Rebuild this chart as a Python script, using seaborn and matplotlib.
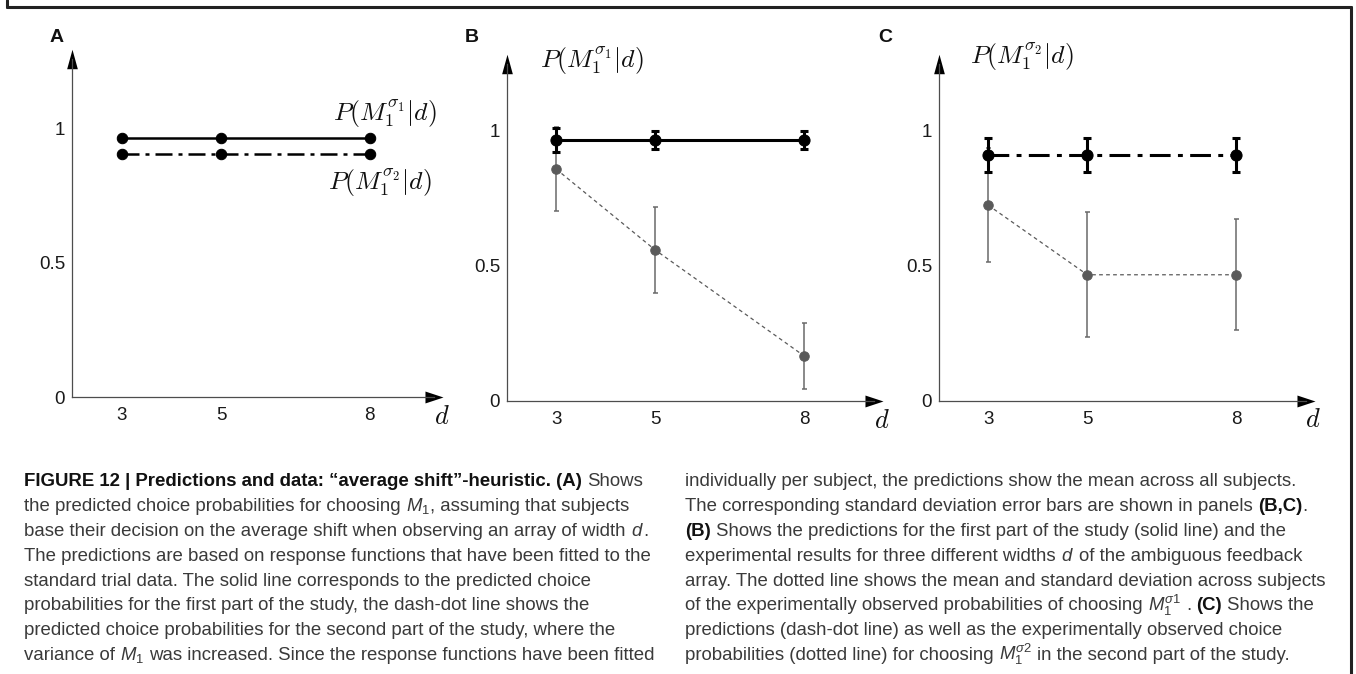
import matplotlib
matplotlib.use('Agg')
import matplotlib.pyplot as plt
import seaborn as sns
import pandas as pd
from matplotlib.lines import Line2D

# ---------------- data ----------------
d_values = [3, 5, 8]
pred_sigma1 = [0.967, 0.967, 0.967]
pred_sigma2 = [0.908, 0.908, 0.908]
pred_sigma1_sd = [0.045, 0.033, 0.033]
pred_sigma2_sd = [0.062, 0.062, 0.062]
obs_sigma1 = [0.859, 0.559, 0.167]
obs_sigma1_sd = [0.155, 0.160, 0.122]
obs_sigma2 = [0.723, 0.466, 0.466]
obs_sigma2_sd = [0.210, 0.230, 0.205]
y_ticks = [0, 0.5, 1]
y_tick_labels = ['0', '0.5', '1']
x_tick_labels = ['3', '5', '8']
panel_letters = ['A', 'B', 'C']
label_s1 = r'$P(M_1^{\sigma_1}|d)$'
label_s2 = r'$P(M_1^{\sigma_2}|d)$'

# ---------------- style ----------------
sns.set_style('white')
plt.rcParams['font.family'] = ['Liberation Sans', 'DejaVu Sans']
plt.rcParams['mathtext.fontset'] = 'custom'
plt.rcParams['mathtext.rm'] = 'Liberation Sans'
plt.rcParams['mathtext.it'] = 'Liberation Sans:italic'
plt.rcParams['mathtext.bf'] = 'Liberation Sans:bold'

W, H = 1356, 674
fig = plt.figure(figsize=(W / 100, H / 100), dpi=100)
fig.patch.set_facecolor('white')


def fx(x):
    return x / W


def fy(y):
    return 1 - y / H


def add_ax(l, r, t, b):
    return fig.add_axes([l / W, 1 - b / H, (r - l) / W, (b - t) / H])


AX_COL = '#4d4d4d'
XARROW = [(-1, -0.66), (1, 0), (-1, 0.66)]
YARROW = [(-0.55, -1), (0, 1), (0.55, -1)]


def style_axis(ax, xlim, ylim):
    ax.set_xlim(xlim)
    ax.set_ylim(ylim)
    ax.set_facecolor('none')
    for s in ['top', 'right']:
        ax.spines[s].set_visible(False)
    for s in ['left', 'bottom']:
        ax.spines[s].set_color(AX_COL)
        ax.spines[s].set_linewidth(0.9)
    ax.set_xticks(d_values)
    ax.set_xticklabels(x_tick_labels)
    ax.set_yticks(y_ticks)
    ax.set_yticklabels(y_tick_labels)
    ax.tick_params(direction='in', length=3, width=0.8, color=AX_COL,
                   labelsize=13.5, labelcolor='#1a1a1a')
    ax.tick_params(axis='y', pad=5)
    ax.tick_params(axis='x', pad=7)
    ax.set_xlabel('')
    ax.set_ylabel('')
    ax.plot(1, 0, marker=XARROW, ms=13, color='k', markeredgewidth=0,
            transform=ax.transAxes, clip_on=False)
    ax.plot(0, 1, marker=YARROW, ms=14, color='k', markeredgewidth=0,
            transform=ax.transAxes, clip_on=False)


DASHDOT = (0, (6.8, 2.4, 1.6, 2.4))
DOTTED = (0, (3, 2.6))
GRAY = '#5a5a5a'
GRAY_E = '#6a6a6a'

# ---------------- panel A ----------------
axA = add_ax(72, 434, 59, 397)
dfA1 = pd.DataFrame({'d': d_values, 'P': pred_sigma1})
dfA2 = pd.DataFrame({'d': d_values, 'P': pred_sigma2})
sns.lineplot(data=dfA1, x='d', y='P', ax=axA, color='k', lw=1.8, marker='o',
             ms=7.5, markeredgecolor='k', errorbar=None)
sns.lineplot(data=dfA2, x='d', y='P', ax=axA, color='k', lw=1.8, marker='o',
             ms=7.5, markeredgecolor='k', errorbar=None, linestyle=DASHDOT)
style_axis(axA, (1.99, 9.30), (0, 1.261))

# ---------------- panel B ----------------
axB = add_ax(507, 874, 64, 401)
dfB_obs = pd.DataFrame({'d': d_values, 'P': obs_sigma1})
dfB_pred = pd.DataFrame({'d': d_values, 'P': pred_sigma1})
axB.errorbar(d_values, obs_sigma1, yerr=obs_sigma1_sd, fmt='none', ecolor=GRAY_E,
             elinewidth=1.1, capsize=1.8, capthick=1.1, zorder=2)
sns.lineplot(data=dfB_obs, x='d', y='P', ax=axB, color=GRAY, lw=0.9, marker='o',
             ms=6.8, markeredgecolor=GRAY, errorbar=None, linestyle=DOTTED, zorder=2.5)
axB.errorbar(d_values, pred_sigma1, yerr=pred_sigma1_sd, fmt='none', ecolor='k',
             elinewidth=2.2, capsize=2.8, capthick=2.2, zorder=3)
sns.lineplot(data=dfB_pred, x='d', y='P', ax=axB, color='k', lw=2.2, marker='o',
             ms=8, markeredgecolor='k', errorbar=None, zorder=4)
style_axis(axB, (2.01, 9.41), (0, 1.248))

# ---------------- panel C ----------------
axC = add_ax(939, 1306, 64, 401)
dfC_obs = pd.DataFrame({'d': d_values, 'P': obs_sigma2})
dfC_pred = pd.DataFrame({'d': d_values, 'P': pred_sigma2})
axC.errorbar(d_values, obs_sigma2, yerr=obs_sigma2_sd, fmt='none', ecolor=GRAY_E,
             elinewidth=1.1, capsize=1.8, capthick=1.1, zorder=2)
sns.lineplot(data=dfC_obs, x='d', y='P', ax=axC, color=GRAY, lw=0.9, marker='o',
             ms=6.8, markeredgecolor=GRAY, errorbar=None, linestyle=DOTTED, zorder=2.5)
axC.errorbar(d_values, pred_sigma2, yerr=pred_sigma2_sd, fmt='none', ecolor='k',
             elinewidth=2.2, capsize=2.8, capthick=2.2, zorder=3)
sns.lineplot(data=dfC_pred, x='d', y='P', ax=axC, color='k', lw=2.2, marker='o',
             ms=8, markeredgecolor='k', errorbar=None, linestyle=DASHDOT, zorder=4)
style_axis(axC, (2.01, 9.41), (0, 1.244))

# ---------------- labels ----------------
MATHKW = dict(math_fontfamily='cm', fontsize=18.5, color='#111111',
              ha='center', va='center')
fig.text(fx(385), fy(114), label_s1, **MATHKW)
fig.text(fx(380), fy(183), label_s2, **MATHKW)
fig.text(fx(592), fy(61), label_s1, **MATHKW)
fig.text(fx(1022), fy(57), label_s2, **MATHKW)

for xc, yc in [(442, 417), (882, 421), (1313, 420)]:
    fig.text(fx(xc), fy(yc), r'$d$', math_fontfamily='cm', fontsize=19,
             color='#111111', ha='center', va='center')

for letter, xc in zip(panel_letters, [57, 472, 885]):
    fig.text(fx(xc), fy(38), letter, fontsize=14, fontweight='bold',
             color='#111111', ha='center', va='center', family='Liberation Sans')

# ---------------- border ----------------
for xs, ys in [([7, 7], [0, 7]), ([7, 1351], [7, 7]), ([1351, 1351], [7, 674])]:
    fig.add_artist(Line2D([fx(v) for v in xs], [fy(v) for v in ys],
                          transform=fig.transFigure, color='#222222', lw=2.2))

# ---------------- caption ----------------
CAP_FAMILY = ['Liberation Sans', 'DejaVu Sans']
CAP_FS = 13.4
renderer = fig.canvas.get_renderer()


def _w(s):
    t = fig.text(0, 0, s, fontsize=CAP_FS, family=CAP_FAMILY)
    w = t.get_window_extent(renderer).width
    t.remove()
    return w


space_w = _w('n n') - _w('nn')


def draw_line(x, y, segs):
    for txt, kind, gap in segs:
        if gap:
            x += space_w
        t = fig.text(fx(x), fy(y), txt, fontsize=CAP_FS, family=CAP_FAMILY,
                     fontweight='bold' if kind == 'b' else 'normal',
                     color='#111111' if kind == 'b' else '#3a3a3a',
                     ha='left', va='baseline')
        x = t.get_window_extent(renderer).x1


left_lines = [
    [("FIGURE 12 | Predictions and data: \u201caverage shift\u201d-heuristic. (A)", 'b', False),
     ("Shows", 'n', True)],
    [("the predicted choice probabilities for choosing", 'n', False), (r"$M_1$", 'n', True),
     (", assuming that subjects", 'n', False)],
    [("base their decision on the average shift when observing an array of width", 'n', False),
     (r"$d$", 'n', True), (".", 'n', False)],
    [("The predictions are based on response functions that have been fitted to the", 'n', False)],
    [("standard trial data. The solid line corresponds to the predicted choice", 'n', False)],
    [("probabilities for the first part of the study, the dash-dot line shows the", 'n', False)],
    [("predicted choice probabilities for the second part of the study, where the", 'n', False)],
    [("variance of", 'n', False), (r"$M_1$", 'n', True),
     ("was increased. Since the response functions have been fitted", 'n', True)],
]
right_lines = [
    [("individually per subject, the predictions show the mean across all subjects.", 'n', False)],
    [("The corresponding standard deviation error bars are shown in panels", 'n', False),
     ("(B,C)", 'b', True), (".", 'n', False)],
    [("(B)", 'b', False),
     ("Shows the predictions for the first part of the study (solid line) and the", 'n', True)],
    [("experimental results for three different widths", 'n', False), (r"$d$", 'n', True),
     ("of the ambiguous feedback", 'n', True)],
    [("array. The dotted line shows the mean and standard deviation across subjects", 'n', False)],
    [("of the experimentally observed probabilities of choosing", 'n', False),
     (r"$M_1^{\sigma 1}$", 'n', True), (".", 'n', True), ("(C)", 'b', True),
     ("Shows the", 'n', True)],
    [("predictions (dash-dot line) as well as the experimentally observed choice", 'n', False)],
    [("probabilities (dotted line) for choosing", 'n', False), (r"$M_1^{\sigma 2}$", 'n', True),
     ("in the second part of the study.", 'n', True)],
]

BASE0 = 486
STEP = 24.9
for i, segs in enumerate(left_lines):
    draw_line(24, BASE0 + STEP * i, segs)
for i, segs in enumerate(right_lines):
    draw_line(685, BASE0 + STEP * i, segs)

fig.savefig('out.png', dpi=100)
